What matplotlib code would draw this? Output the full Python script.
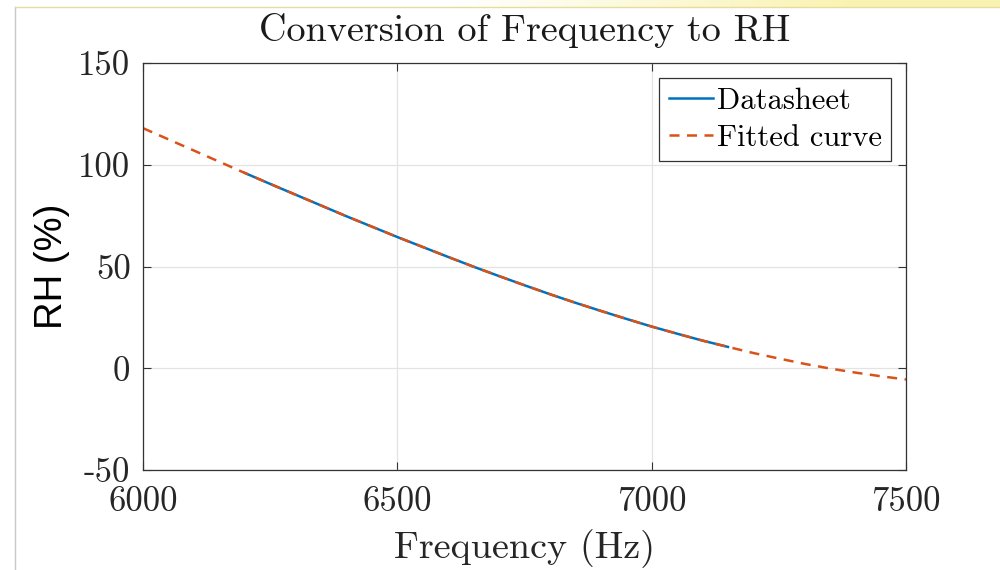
import numpy as np
import matplotlib
matplotlib.use('Agg')
from matplotlib import pyplot as plt
from matplotlib.lines import Line2D

# data
freq_sheet = [6200, 6250, 6300, 6350, 6400, 6450, 6500, 6550, 6600, 6650,
              6700, 6750, 6800, 6850, 6900, 6950, 7000, 7050, 7100, 7150]
rh_sheet = [96.0, 90.6, 85.3, 80.0, 74.7, 69.6, 64.5, 59.6, 54.7, 49.9,
            45.3, 40.8, 36.4, 32.2, 28.2, 24.3, 20.5, 17.0, 13.6, 10.5]

freq_fit = [6000, 6050, 6100, 6150, 6200, 6250, 6300, 6350, 6400, 6450,
            6500, 6550, 6600, 6650, 6700, 6750, 6800, 6850, 6900, 6950,
            7000, 7050, 7100, 7150, 7200, 7250, 7300, 7350, 7400, 7450, 7500]
rh_fit = [118.0, 112.5, 107.0, 101.5, 96.0, 90.6, 85.3, 80.0, 74.7, 69.6,
          64.5, 59.6, 54.7, 49.9, 45.3, 40.8, 36.4, 32.2, 28.2, 24.3,
          20.5, 17.0, 13.6, 10.5, 7.5, 4.8, 2.2, -0.1, -2.1, -3.9, -5.5]

xticks = [6000, 6500, 7000, 7500]
yticks = [-50, 0, 50, 100, 150]
ytick_labels = ['-50', '0', '50', '100', '150']

plt.rcParams['font.family'] = 'cmr10'
plt.rcParams['font.size'] = 25

fig = plt.figure(figsize=(10, 5.7), dpi=100)
ax = fig.add_axes([0.143, 0.1754, 0.763, 0.714])

ax.plot(freq_sheet, rh_sheet, color='#0072BD', lw=1.8, label='Datasheet')
ax.plot(freq_fit, rh_fit, color='#D95319', lw=1.8, ls=(0, (4, 3)), label='Fitted curve')

ax.set_xlim(6000, 7500)
ax.set_ylim(-50, 150)
ax.set_xticks(xticks)
ax.set_xticklabels([str(v) for v in xticks])
ax.set_yticks(yticks)
ax.set_yticklabels(ytick_labels)
ax.grid(True, color='#e3e3e3', lw=0.9)
ax.tick_params(direction='in', length=6, width=0.8, color='#333333',
               top=True, right=True, labelsize=25, labelcolor='#262626')
ax.tick_params(axis='x', pad=12)
ax.tick_params(axis='y', pad=9)
for s in ax.spines.values():
    s.set_color('#333333')
    s.set_linewidth(0.9)

ax.set_title('Conversion of Frequency to RH', fontsize=27.5, pad=16, color='#1a1a1a')
ax.set_xlabel('Frequency (Hz)', fontsize=27.5, labelpad=8, color='#262626')
ax.set_ylabel('RH (%)', fontsize=27.5, family='Liberation Sans', labelpad=6)

leg = ax.legend(loc='upper right', fontsize=22, handlelength=1.45, handletextpad=0.12,
                borderpad=0.3, labelspacing=0.3, fancybox=False, framealpha=1,
                borderaxespad=0.5)
leg.get_frame().set_edgecolor('#333333')
leg.get_frame().set_linewidth(0.9)

# page frame and yellow strip at the top
fig.add_artist(Line2D([0.015, 0.015], [0.0, 0.988], color='#c8c8c8', lw=1))
fig.add_artist(Line2D([0.015, 1.0], [0.988, 0.988], color='#e6dca0', lw=1))
bar = fig.add_axes([0.0, 0.988, 1.0, 0.012])
grad = np.linspace(0, 1, 256)
cols = np.ones((1, 256, 4))
cols[0, :, 0] = 0.98
cols[0, :, 1] = 0.95
cols[0, :, 2] = 0.66
cols[0, :, 3] = np.clip((grad - 0.45) * 2.2, 0, 0.9)
bar.imshow(cols, aspect='auto', extent=[0, 1, 0, 1])
bar.axis('off')

fig.savefig('out.png', dpi=100)
